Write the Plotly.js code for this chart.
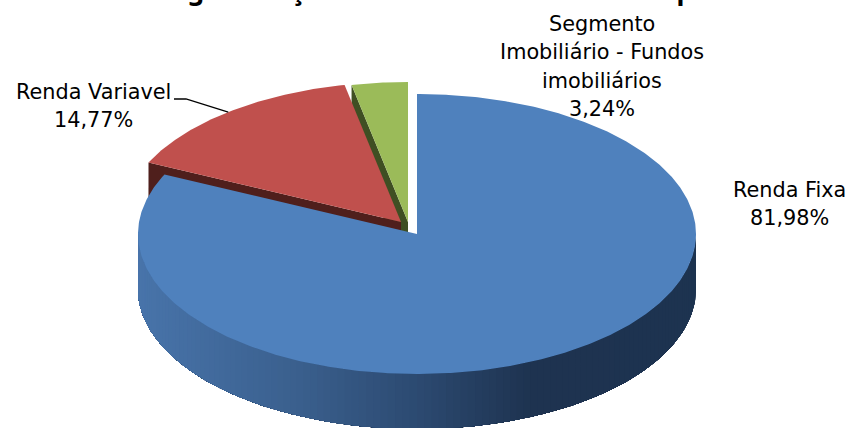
<!DOCTYPE html>
<html>
<head>
<meta charset="utf-8">
<script src="https://cdn.plot.ly/plotly-3.0.1.min.js"></script>
<style>html,body{margin:0;padding:0;background:#fff;overflow:hidden}</style>
</head>
<body>
<div id="chart" style="width:848px;height:428px"></div>
<script>
// Data
const categories = ["Renda Fixa", "Renda Variavel", "Segmento<br>Imobiliário - Fundos<br>imobiliários"];
const values = [81.98, 14.77, 3.24];
const valueLabels = ["81,98%", "14,77%", "3,24%"];
const chartTitle = "Segmentação dos investimentos totais por";

// Style
const topColors = ["#4f81bd", "#c0504d", "#9bbb59"];
const cutColors = ["#1d3350", "#4f1f1c", "#3f4f23"];
const FONT = "'DejaVu Sans', sans-serif";
const RX = 279, RY = 140, DEPTH = 55, LINE_GAP = 28.3;
const apexes = [[417, 234], [401, 222], [408, 222]];
const labelPos = [[789, 204], [93, 106], [602, 66.5]];

const total = values.reduce((a, b) => a + b, 0);
const spans = [];
let acc = 0;
values.forEach(v => { const s = v / total * 360; spans.push([acc, acc + s]); acc += s; });

function rim(i, deg, dz) {
  const r = deg * Math.PI / 180;
  return [apexes[i][0] + RX * Math.sin(r), apexes[i][1] - RY * Math.cos(r) + (dz || 0)];
}
function poly(pts, color) {
  return {
    type: "scatter", mode: "lines", fill: "toself", fillcolor: color,
    x: pts.map(p => p[0]).concat([pts[0][0]]), y: pts.map(p => p[1]).concat([pts[0][1]]),
    line: { color: color, width: 0 }, hoverinfo: "skip", showlegend: false
  };
}
function topFace(i) {
  const pts = [apexes[i]];
  for (let d = spans[i][0]; d < spans[i][1]; d += 0.5) pts.push(rim(i, d));
  pts.push(rim(i, spans[i][1]));
  return poly(pts, topColors[i]);
}
function cutFace(i, deg) {
  const a = apexes[i], p = rim(i, deg);
  return poly([a, p, [p[0], p[1] + DEPTH], [a[0], a[1] + DEPTH]], cutColors[i]);
}
function hex(c) { return [1, 3, 5].map(k => parseInt(c.substr(k, 2), 16)); }
const gradStops = [[138, "#4874aa"], [300, "#3a5f8d"], [417, "#2c4a71"], [530, "#1e3350"], [696, "#1d3350"]];
function gradColor(x) {
  for (let k = 1; k < gradStops.length; k++) {
    if (x <= gradStops[k][0]) {
      const t = (x - gradStops[k - 1][0]) / (gradStops[k][0] - gradStops[k - 1][0]);
      const a = hex(gradStops[k - 1][1]), b = hex(gradStops[k][1]);
      return "rgb(" + a.map((v, j) => Math.round(v + (b[j] - v) * Math.max(0, t))).join(",") + ")";
    }
  }
  return gradStops[gradStops.length - 1][1];
}

const traces = [];
traces.push(cutFace(2, spans[2][0]), topFace(2));
traces.push(cutFace(1, spans[1][0]), topFace(1));
// Side wall: each band reaches the far end, the next band paints over it (no seams)
const STEP = 1.5;
for (let d = 90; d < 270; d += STEP) {
  const upper = [], lower = [];
  for (let e = d; e <= 270; e += STEP) { upper.push(rim(0, e)); lower.unshift(rim(0, e, DEPTH)); }
  const x = rim(0, d + STEP / 2)[0];
  traces.push(poly(upper.concat(lower), gradColor(x)));
}
traces.push(topFace(0));

// Leader line from the label to the middle of the red slice rim
const redEdge = rim(1, (spans[1][0] + spans[1][1]) / 2);
const shapes = [{
  type: "path", xref: "x", yref: "y",
  path: `M174,99 L186,99 L${redEdge[0]},${redEdge[1]}`,
  line: { color: "#000", width: 1.3 }
}];

// One annotation per line, so the line spacing can follow the reference
const annotations = [];
categories.forEach((c, i) => {
  const lines = c.split("<br>").concat([valueLabels[i]]);
  lines.forEach((t, k) => annotations.push({
    xref: "x", yref: "y", x: labelPos[i][0],
    y: labelPos[i][1] + (k - (lines.length - 1) / 2) * LINE_GAP,
    text: t, showarrow: false, xanchor: "center", yanchor: "middle", align: "center",
    font: { family: FONT, size: 20.8, color: "#000" }
  }));
});

const layout = {
  width: 848, height: 428, margin: { l: 0, r: 0, t: 0, b: 0 },
  paper_bgcolor: "#fff", plot_bgcolor: "#fff", showlegend: false,
  title: {
    text: chartTitle, x: 157 / 848, xanchor: "left", xref: "paper",
    y: 1, yref: "container", yanchor: "bottom",
    font: { family: "'Noto Sans', sans-serif", size: 26.5, color: "#000", weight: 700 }
  },
  xaxis: { range: [0, 848], visible: false, fixedrange: true },
  yaxis: { range: [428, 0], visible: false, fixedrange: true },
  shapes, annotations
};
Plotly.newPlot("chart", traces, layout, { displayModeBar: false, staticPlot: true });
</script>
</body>
</html>
